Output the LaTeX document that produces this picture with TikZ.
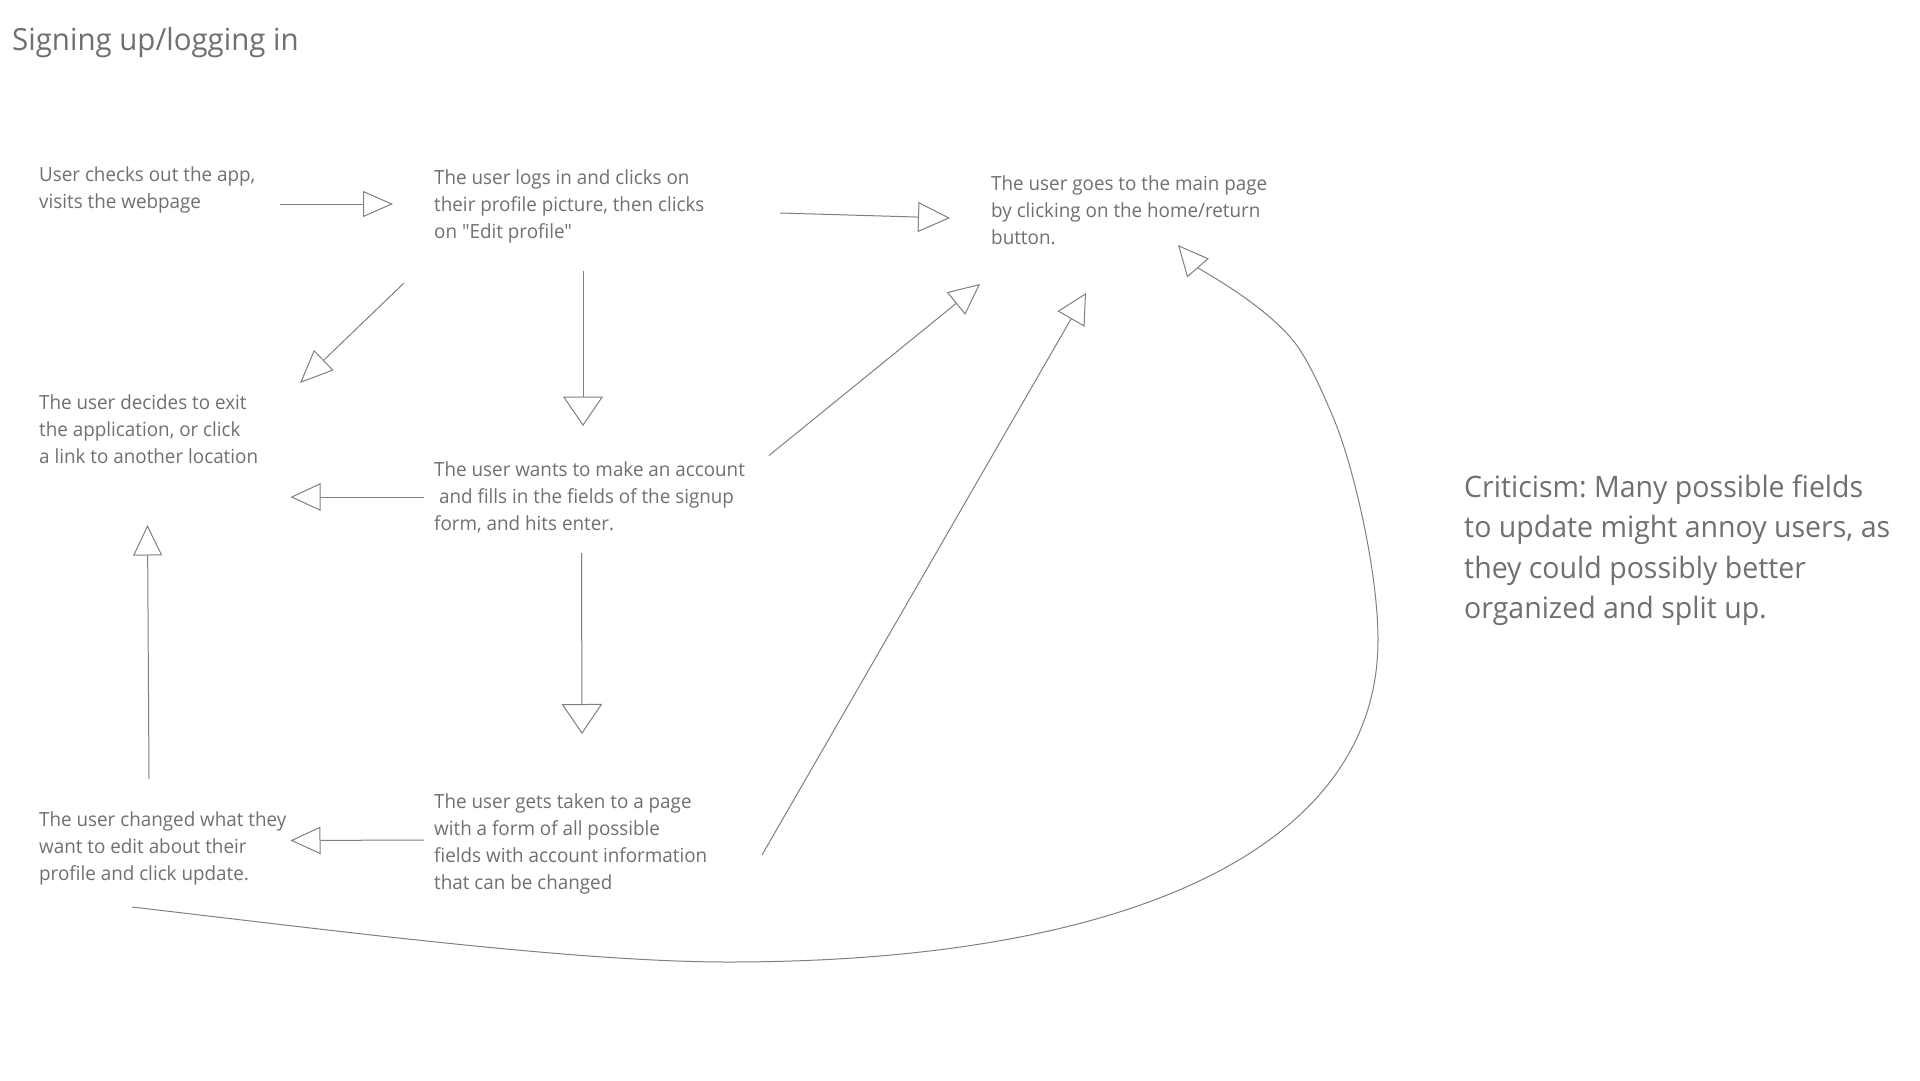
\documentclass[tikz,border=0pt]{standalone}
\usepackage{fontspec}
\setmainfont{Open Sans}[FakeStretch=0.966, Ligatures=TeXOff]
\usetikzlibrary{arrows.meta}
\definecolor{txtgray}{RGB}{112,112,112}
\definecolor{linegray}{RGB}{128,128,128}
\frenchspacing
\tikzset{
  txt/.style={anchor=north west, inner sep=0pt, align=left, text=txtgray,
    font=\fontsize{19.5}{27}\selectfont,
    execute at begin node={\rule{0pt}{16pt}}},
  bigtxt/.style={anchor=north west, inner sep=0pt, align=left, text=txtgray,
    font=\fontsize{29.5}{40.4}\selectfont,
    execute at begin node={\rule{0pt}{24pt}}},
  conn/.style={draw=linegray, line width=1pt, line join=miter,
    -{Triangle[open, length=#1]}},
  conn/.default={30pt, width=28pt}
}
\begin{document}
\begin{tikzpicture}[x=1pt,y=-1pt]
\useasboundingbox[fill=white] (0,0) rectangle (1920,1080);

% title
\node[anchor=base west, inner sep=0pt, text=txtgray,
  font=\fontsize{30.5}{36}\selectfont] (title) at (12,50) {Signing up/logging in};

% steps (node placed so that its first baseline sits at y + 16)
\node[txt] (visit)  at (39,166)  {User checks out the app,\\visits the webpage};
\node[txt] (login)  at (434,169) {The user logs in and clicks on\\their profile picture, then clicks\\on "Edit profile"};
\node[txt] (home)   at (991,175) {The user goes to the main page\\by clicking on the home/return\\button.};
\node[txt] (exit)   at (39,394)  {The user decides to exit\\the application, or click\\a link to another location};
\node[txt] (signup) at (434,461) {The user wants to make an account\\\ and fills in the fields of the signup\\form, and hits enter.};
\node[txt] (form)   at (434,793) {The user gets taken to a page\\with a form of all possible\\fields with account information\\that can be changed};
\node[txt] (update) at (39,811)  {The user changed what they\\want to edit about their\\profile and click update.};
\node[bigtxt] (crit) at (1464,474.5) {Criticism: Many possible fields\\to update might annoy users, as\\they could possibly better\\organized and split up.};

% connector end points
\coordinate (visitOut)   at (280,204);  \coordinate (loginIn)    at (393,204);
\coordinate (loginR)     at (780,213);  \coordinate (homeL)      at (950,218);
\coordinate (loginSW)    at (404,283);  \coordinate (exitNE)     at (300,383);
\coordinate (loginS)     at (583,271);  \coordinate (signupN)    at (583,426);
\coordinate (signupW)    at (424,497);  \coordinate (exitE)      at (290.5,497);
\coordinate (signupNE)   at (769,455.5);\coordinate (homeSW)     at (980,284);
\coordinate (signupS)    at (581.5,553);\coordinate (formN)      at (582,734);
\coordinate (formW)      at (424,840);  \coordinate (updateE)    at (290.5,840.5);
\coordinate (updateN)    at (149,779);  \coordinate (exitS)      at (147.5,525);
\coordinate (formNE)     at (762,855);  \coordinate (homeS)      at (1086,293);
\coordinate (updateS)    at (132,907);  \coordinate (homeSE)     at (1178,245);
% turning points of the long return curve
\coordinate (loopB)  at (728,962);
\coordinate (loopR)  at (1378,640);
\coordinate (loopR2) at (1333,417);
\coordinate (loopR3) at (1300,350);
\coordinate (loopH)  at (1198,268);

% connectors
\draw[conn={30pt, width=26pt}]   (visitOut) -- (loginIn);
\draw[conn={32pt, width=30pt}]   (loginR) -- (homeL);
\draw[conn={33pt, width=28pt}]   (loginSW) -- (exitNE);
\draw[conn={29.5pt, width=40pt}] (loginS) -- (signupN);
\draw[conn={30pt, width=27.5pt}] (signupW) -- (exitE);
\draw[conn={31pt, width=29pt}]   (signupNE) -- (homeSW);
\draw[conn={30pt, width=40.5pt}] (signupS) -- (formN);
\draw[conn={30pt, width=27.5pt}] (formW) -- (updateE);
\draw[conn={30.5pt, width=29pt}] (updateN) -- (exitS);
\draw[conn={30pt, width=31pt}]   (formNE) -- (homeS);
\draw[conn={30.5pt, width=28.5pt}] (updateS)
  .. controls (330,930) and (575,962) .. (loopB)
  .. controls (1125,962) and (1378,850) .. (loopR)
  .. controls (1378,570) and (1352.7,463) .. (loopR2)
  .. controls (1323.2,394) and (1313.4,371.1) .. (loopR3)
  .. controls (1283.9,324.7) and (1245.7,295.3) .. (loopH)
  -- (homeSE);
\end{tikzpicture}
\end{document}
